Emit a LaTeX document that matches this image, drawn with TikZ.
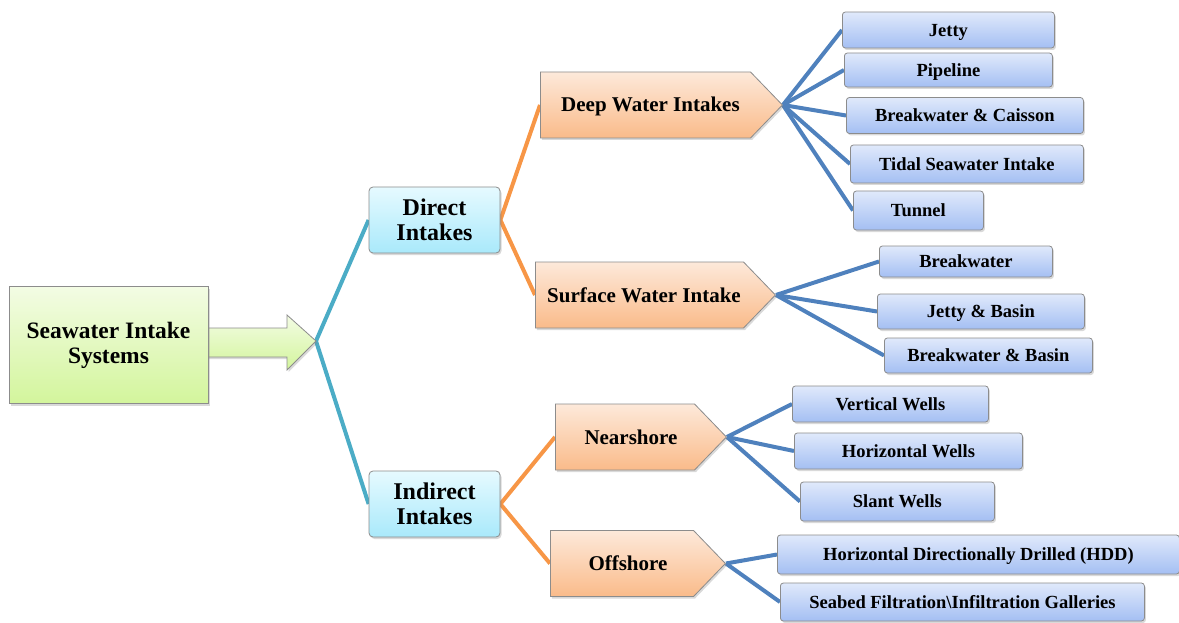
\documentclass[tikz,border=0pt]{standalone}
\usepackage{fontspec}
\setmainfont{Liberation Serif}
\usetikzlibrary{shapes.symbols,shadows,backgrounds}
\definecolor{rootTop}{HTML}{F3FCE4}
\definecolor{rootBot}{HTML}{D3F59C}
\definecolor{midTop}{HTML}{E6FAFF}
\definecolor{midBot}{HTML}{A9E9FB}
\definecolor{grpTop}{HTML}{FDE9DA}
\definecolor{grpBot}{HTML}{FABB8A}
\definecolor{leafTop}{HTML}{E0E9FB}
\definecolor{leafBot}{HTML}{A4BFF3}
\definecolor{lineTeal}{HTML}{4BACC6}
\definecolor{lineOrange}{HTML}{F79646}
\definecolor{lineBlue}{HTML}{4F81BD}

\begin{document}
\begin{tikzpicture}[
  x=1pt, y=-1pt,
  box/.style={draw=black!45, line width=0.8pt, align=center, inner sep=0pt,
              drop shadow={shadow xshift=1.5pt, shadow yshift=-2pt, opacity=0.3}},
  rootbox/.style={box, top color=rootTop, bottom color=rootBot,
                  minimum width=199pt, minimum height=117pt,
                  font=\bfseries\fontsize{23.5}{25}\selectfont},
  midbox/.style={box, rounded corners=4pt, top color=midTop, bottom color=midBot,
                 minimum width=131pt, minimum height=66pt,
                 font=\bfseries\fontsize{24}{25}\selectfont},
  groupbox/.style={box, signal, signal to=east, signal pointer angle=92,
                   top color=grpTop, bottom color=grpBot, anchor=west,
                   minimum height=66pt, text height=14.5pt, text depth=0.5pt,
                   font=\bfseries\fontsize{21}{24}\selectfont},
  leafbox/.style={box, rounded corners=3pt, top color=leafTop, bottom color=leafBot,
                  anchor=west, minimum height=36pt, text height=13pt, text depth=0.5pt,
                  font=\bfseries\fontsize{18.5}{21}\selectfont},
  tealline/.style={line width=4pt, lineTeal},
  orangeline/.style={line width=4pt, lineOrange},
  blueline/.style={line width=4pt, lineBlue}
]
  \useasboundingbox (0,0) rectangle (1179,623);

  % Root and its arrow
  \coordinate (hub) at (316,341);
  \path[draw=black!45, line width=0.8pt, top color=rootTop, bottom color=rootBot,
        drop shadow={shadow xshift=1.5pt, shadow yshift=-2pt, opacity=0.3}]
    (200,328) -- (287,328) -- (287,315) -- (hub) -- (287,370) -- (287,357)
    -- (200,357) -- cycle;
  \node[rootbox] (root) at (108.5,345) {Seawater Intake\\Systems};

  % Direct / indirect
  \node[midbox] (direct) at (434.5,220) {Direct\\Intakes};
  \node[midbox] (indirect) at (434.5,504) {Indirect\\Intakes};

  % Intake groups
  \node[groupbox, minimum width=242pt] (deep) at (540,105) {\hspace{10pt}Deep Water Intakes};
  \node[groupbox, minimum width=240pt] (surface) at (535,295) {\hspace{9pt}Surface Water Intake};
  \node[groupbox, minimum width=171pt] (near) at (555,437) {\hspace{12pt}Nearshore};
  \node[groupbox, minimum width=175pt] (off) at (550,563.5) {\hspace{12pt}Offshore};

  % Leaves of deep water intakes
  \node[leafbox, minimum width=212pt] (jetty) at (842,30) {Jetty};
  \node[leafbox, minimum width=208pt, minimum height=34pt] (pipe) at (844,70) {Pipeline};
  \node[leafbox, minimum width=237pt] (caisson) at (846,115.5) {Breakwater \& Caisson};
  \node[leafbox, minimum width=233pt, minimum height=38pt] (tidal) at (850,164) {Tidal Seawater Intake};
  \node[leafbox, minimum width=130pt, minimum height=39pt] (tunnel) at (853,210.5) {Tunnel};

  % Leaves of surface water intake
  \node[leafbox, minimum width=173pt, minimum height=31pt] (bw) at (879,261.5) {Breakwater};
  \node[leafbox, minimum width=207pt, minimum height=35pt] (basin) at (877,311.5) {Jetty \& Basin};
  \node[leafbox, minimum width=208pt, minimum height=35pt] (bwbasin) at (884,355.5) {Breakwater \& Basin};

  % Leaves of nearshore
  \node[leafbox, minimum width=196pt] (vert) at (792,404) {Vertical Wells};
  \node[leafbox, minimum width=228pt] (horiz) at (794,451) {Horizontal Wells};
  \node[leafbox, minimum width=194pt, minimum height=39pt] (slant) at (800,501.5) {Slant Wells};

  % Leaves of offshore
  \node[leafbox, minimum width=402pt, minimum height=39pt] (hdd) at (777,554.5) {Horizontal Directionally Drilled (HDD)};
  \node[leafbox, minimum width=364pt, minimum height=38pt] (seabed) at (780,602) {Seabed Filtration\textbackslash Infiltration Galleries};

  % Connectors
  \begin{scope}[on background layer]
    \draw[tealline] (direct.west) -- (hub) -- (indirect.west);
    \draw[orangeline] (deep.west) -- (direct.east) -- (surface.west);
    \draw[orangeline] (near.west) -- (indirect.east) -- (off.west);
    \foreach \leaf in {jetty,pipe,caisson,tidal,tunnel}
      \draw[blueline] (deep.east) -- (\leaf.west);
    \foreach \leaf in {bw,basin,bwbasin}
      \draw[blueline] (surface.east) -- (\leaf.west);
    \foreach \leaf in {vert,horiz,slant}
      \draw[blueline] (near.east) -- (\leaf.west);
    \foreach \leaf in {hdd,seabed}
      \draw[blueline] (off.east) -- (\leaf.west);
  \end{scope}
\end{tikzpicture}
\end{document}
